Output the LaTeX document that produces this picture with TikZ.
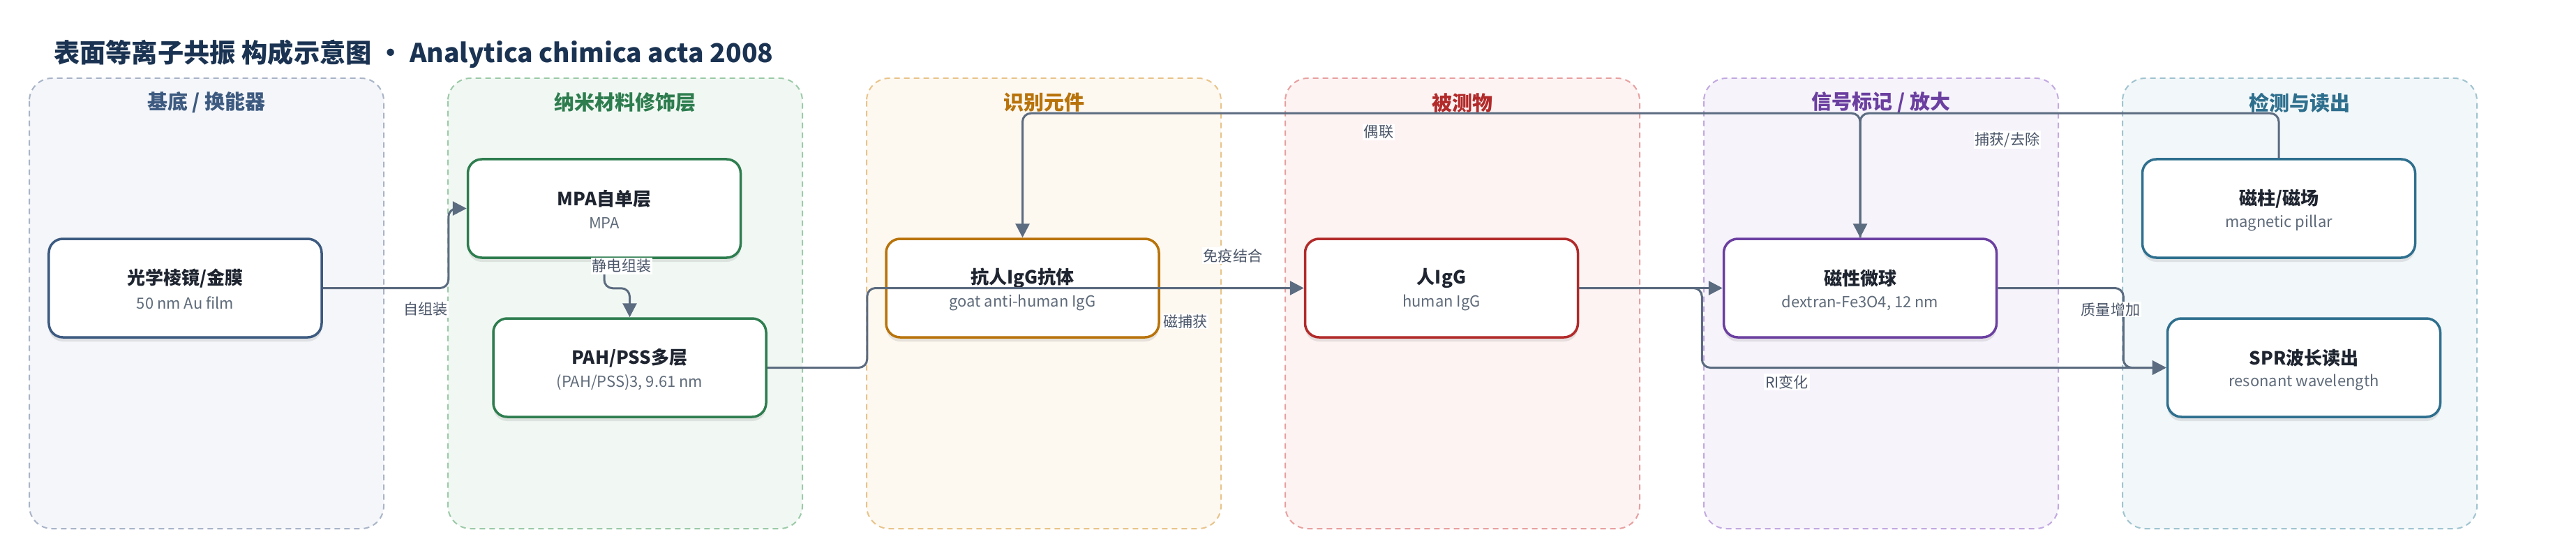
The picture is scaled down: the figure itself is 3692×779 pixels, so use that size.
\documentclass[tikz,border=0pt]{standalone}
\usepackage{fontspec}
\setmainfont{Noto Sans CJK SC}
\usetikzlibrary{arrows.meta,shadows}

\definecolor{ink}{HTML}{1B3352}
\definecolor{edgec}{HTML}{5B6B80}
\definecolor{labc}{HTML}{4A5568}
\definecolor{subc}{HTML}{5F6B7A}
\definecolor{darkt}{HTML}{1F2530}
\definecolor{basefill}{HTML}{F4F6FA}
\definecolor{basedraw}{HTML}{A9B4C7}
\definecolor{basetext}{HTML}{3D5A80}
\definecolor{nanofill}{HTML}{F1F8F3}
\definecolor{nanodraw}{HTML}{9CCAA8}
\definecolor{nanotext}{HTML}{2E7D4F}
\definecolor{recfill}{HTML}{FDF8F0}
\definecolor{recdraw}{HTML}{E8C48A}
\definecolor{rectext}{HTML}{B8730A}
\definecolor{anafill}{HTML}{FDF3F3}
\definecolor{anadraw}{HTML}{E8A0A0}
\definecolor{anatext}{HTML}{B22A2A}
\definecolor{sigfill}{HTML}{F6F3FB}
\definecolor{sigdraw}{HTML}{C2A9E0}
\definecolor{sigtext}{HTML}{6B3FA0}
\definecolor{detfill}{HTML}{F2F7F9}
\definecolor{detdraw}{HTML}{A0C4D0}
\definecolor{dettext}{HTML}{2E6F8E}

\newcommand*{\lane}[3]{%
  \draw[lanebox,fill=#1fill,draw=#1draw] (#2,112) rectangle ++(508,645);
  \node[lanetitle,text=#1text] (#1-t) at (#2+254,147) {#3};
}
\newcommand*{\blk}[6]{%
  \node[blkbox,draw=#4] (#1) at (#2,#3) {};
  \node[blktitle] (#1-t) at (#2,#3-14) {#5};
  \node[blksub] (#1-s) at (#2,#3+21) {#6};
}

\begin{document}
\begin{tikzpicture}[x=0.2mm,y=-0.2mm,>={Triangle[length=4mm,width=4mm]},
    lanebox/.style={dash pattern=on 1.6mm off 1.2mm,line width=0.4mm,rounded corners=6.5mm},
    lanetitle/.style={font=\bfseries\fontsize{16.5}{18}\selectfont},
    blkbox/.style={rectangle,rounded corners=4mm,fill=white,line width=0.7mm,minimum width=78.2mm,minimum height=28.2mm,inner sep=0pt,
        drop shadow={shadow xshift=0mm,shadow yshift=-1.2mm,opacity=0.15,fill=black!60}},
    blktitle/.style={font=\bfseries\fontsize{14.8}{16}\selectfont,text=darkt},
    blksub/.style={font=\fontsize{12.5}{14}\selectfont,text=subc},
    edge/.style={->,draw=edgec,line width=0.6mm,rounded corners=2.4mm},
    elabel/.style={fill=white,inner sep=1pt,text=labc,font=\fontsize{12}{14}\selectfont}]
                \fill[white] (0,0) rectangle (3692,779);
                \useasboundingbox (0,0) rectangle (3692,779);

                \node[font=\bfseries\fontsize{21.2}{24}\selectfont,text=ink,anchor=west] (title) at (71,77) {表面等离子共振 构成示意图 · Analytica chimica acta 2008};

                \lane{base}{42}{基底 / 换能器}
                \lane{nano}{642}{纳米材料修饰层}
                \lane{rec}{1242}{识别元件}
                \lane{ana}{1842}{被测物}
                \lane{sig}{2442}{信号标记 / 放大}
                \lane{det}{3042}{检测与读出}

                \blk{au}{265.5}{412.5}{basetext}{光学棱镜/金膜}{50 nm Au film}
                \blk{mpa}{866}{298.5}{nanotext}{MPA自单层}{MPA}
                \blk{pah}{902.5}{526.5}{nanotext}{PAH/PSS多层}{(PAH/PSS)3, 9.61 nm}
                \blk{ab}{1465.5}{412.5}{rectext}{抗人IgG抗体}{goat anti-human IgG}
                \blk{igg}{2066}{412.5}{anatext}{人IgG}{human IgG}
                \blk{bead}{2666}{412.5}{sigtext}{磁性微球}{dextran-Fe3O4, 12 nm}
                \blk{pillar}{3266}{298.5}{dettext}{磁柱/磁场}{magnetic pillar}
                \blk{spr}{3302}{526.5}{dettext}{SPR波长读出}{resonant wavelength}

                \draw[edge] (au.east) -- ++(180,0) |- (mpa.west);
                \draw[edge] (mpa.south) -- ++(0,42) -| (pah.north);
                \draw[edge] (pah.east) -- ++(143,0) |- (igg.west);
                \draw[edge] (igg.east) -- (bead.west);
                \draw[edge] (igg.east) -- ++(176,0) |- (spr.west);
                \draw[edge] (bead.east) -- ++(180,0) |- (spr.west);
                \draw[edge] (pillar.north) -- ++(0,-64) -| (bead.north);
                \draw[edge] (bead.north) -- ++(0,-178) -| (ab.north);

                \node[elabel] (l-self) at (610,443) {自组装};
                \node[elabel] (l-elec) at (891,381) {静电组装};
                \node[elabel] (l-imm) at (1767,366) {免疫结合};
                \node[elabel] (l-mag) at (1699,460) {磁捕获};
                \node[elabel] (l-coup) at (1976,189) {偶联};
                \node[elabel] (l-cap) at (2877,200) {捕获/去除};
                \node[elabel] (l-ri) at (2561,547) {RI变化};
                \node[elabel] (l-mass) at (3025,443) {质量增加};
            \end{tikzpicture}
\end{document}
